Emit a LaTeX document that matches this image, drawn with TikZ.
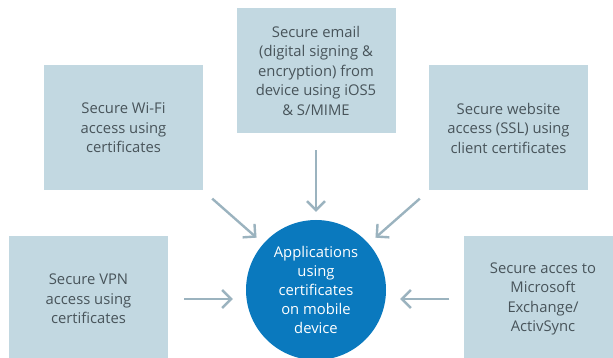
\documentclass[tikz,border=0pt]{standalone}
\usepackage{fontspec}
\setmainfont{Open Sans}
\usetikzlibrary{arrows.meta}
\definecolor{boxblue}{HTML}{C2D8E1}
\definecolor{appblue}{HTML}{0A79BE}
\definecolor{arrowgray}{HTML}{9BB3BF}
\definecolor{textgray}{HTML}{48545A}
\begin{document}
\begin{tikzpicture}[x=1pt,y=-1pt,
  usecase/.style={fill=boxblue, minimum width=159pt, minimum height=125pt, inner sep=0pt,
    align=center, text=textgray, font=\fontsize{14.8}{19.5}\selectfont},
  appcircle/.style={circle, fill=appblue, minimum size=140pt, inner sep=0pt,
    align=center, text=white, font=\fontsize{14.8}{19}\selectfont},
  feed/.style={draw=arrowgray, line width=2.4pt, -{Straight Barb[length=9pt,width=18pt]}}]
\clip (0,0) rectangle (613,358);
% use cases
\node[usecase] (email) at (316,70.5) {Secure email\\(digital signing \&\\encryption) from\\device using iOS5\\\& S/MIME};
\node[usecase] (wifi) at (123.5,128) {Secure Wi-Fi\\access using\\certificates};
\node[usecase] (web) at (508.5,128) {Secure website\\access (SSL) using\\client certificates};
\node[usecase] (vpn) at (88.5,299) {Secure VPN\\access using\\certificates};
\node[usecase] (sync) at (543,299) {Secure acces to\\Microsoft\\Exchange/\\ActivSync};
% centre
\node[appcircle] (app) at (316,290) {Applications\\using\\certificates\\on mobile\\device};
% arrows
\draw[feed, shorten <=17pt, shorten >=8pt] (email) -- (app);
\draw[feed, shorten <=12pt, shorten >=9pt] (wifi.south east) -- (app);
\draw[feed, shorten <=12pt, shorten >=9pt] (web.south west) -- (app);
\draw[feed, shorten <=16pt, shorten >=13pt] (vpn.east) -- (vpn.east -| app.west);
\draw[feed, shorten <=14pt, shorten >=14pt] (sync.west) -- (sync.west -| app.east);
\end{tikzpicture}
\end{document}
